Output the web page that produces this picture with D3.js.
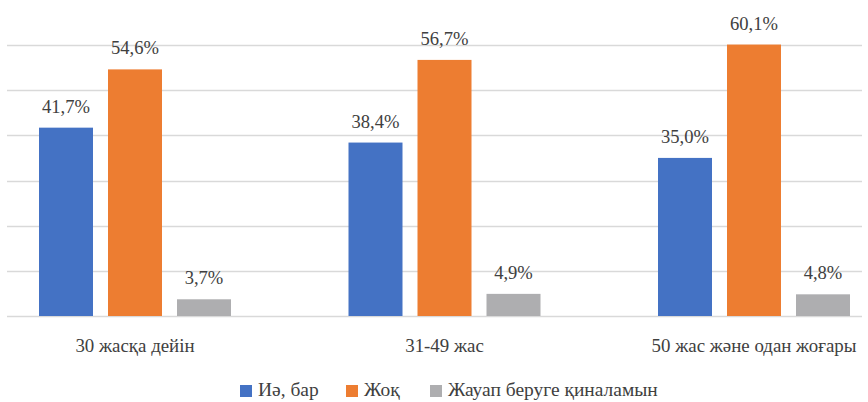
<!DOCTYPE html>
<html>
<head>
<meta charset="utf-8">
<script src="https://cdn.jsdelivr.net/npm/d3@7"></script>
</head>
<body style="margin:0">
<svg width="868" height="402"></svg>
<script>
var categories = ["30 жасқа дейін", "31-49 жас", "50 жас және одан жоғары"];
var series = ["Иә, бар", "Жоқ", "Жауап беруге қиналамын"];
var yesValues = [41.7, 38.4, 35.0];
var noValues = [54.6, 56.7, 60.1];
var unsureValues = [3.7, 4.9, 4.8];
var gridTicks = [0, 10, 20, 30, 40, 50, 60];

var colors = ["#4472C4", "#ED7D31", "#AEAEB0"];
var valuesBySeries = [yesValues, noValues, unsureValues];
var font = "Times New Roman, Liberation Serif, serif";

var svg = d3.select("svg"),
    width = +svg.attr("width"),
    height = +svg.attr("height");

var y = d3.scaleLinear().domain([0, 60]).range([316, 45]);

var x = d3.scalePoint()
    .domain(categories)
    .range([135, 754]);

var xInner = d3.scaleBand()
    .domain(series)
    .range([-96, 96])
    .paddingInner(0.2174);

// shrink/grow a text group so that one reference text gets the wanted width
function fitSize(sel, base, refIndex, wanted) {
  var w = sel.nodes()[refIndex].getComputedTextLength();
  var size = w > 0 ? base * wanted / w : base;
  sel.attr("font-size", size);
  return size;
}

// gridlines
svg.append("g")
    .selectAll("line")
    .data(gridTicks)
    .enter().append("line")
    .attr("x1", 7)
    .attr("x2", 862)
    .attr("y1", d => Math.round(y(d)) + 0.5)
    .attr("y2", d => Math.round(y(d)) + 0.5)
    .attr("stroke", "#D9D9D9")
    .attr("stroke-width", 1.3);

// bars
var rows = [];
categories.forEach(function(c, i) {
  series.forEach(function(s, j) {
    rows.push({cat: c, ser: s, val: valuesBySeries[j][i], color: colors[j]});
  });
});

svg.append("g")
    .selectAll("rect")
    .data(rows)
    .enter().append("rect")
    .attr("x", d => x(d.cat) + xInner(d.ser))
    .attr("width", xInner.bandwidth())
    .attr("y", d => y(d.val))
    .attr("height", d => y(0) - y(d.val))
    .attr("fill", d => d.color);

// value labels
var valueTexts = svg.append("g")
    .selectAll("text")
    .data(rows)
    .enter().append("text")
    .attr("x", d => x(d.cat) + xInner(d.ser) + xInner.bandwidth() / 2)
    .attr("y", d => y(d.val) - 15)
    .attr("text-anchor", "middle")
    .attr("font-family", font)
    .attr("font-size", 19)
    .attr("fill", "#404040")
    .text(d => d.val.toFixed(1).replace(".", ",") + "%");
fitSize(valueTexts, 19, 1, 48);

// category labels
var catTexts = svg.append("g")
    .selectAll("text")
    .data(categories)
    .enter().append("text")
    .attr("x", d => x(d))
    .attr("y", 352)
    .attr("text-anchor", "middle")
    .attr("font-family", font)
    .attr("font-size", 20)
    .attr("fill", "#404040")
    .text(d => d);
fitSize(catTexts, 20, 2, 205);

// legend
var legendX = [240, 346, 430];
var legend = svg.append("g")
    .selectAll("g")
    .data(series)
    .enter().append("g")
    .attr("transform", (d, i) => "translate(" + legendX[i] + ",0)");

legend.append("rect")
    .attr("y", 385)
    .attr("width", 12)
    .attr("height", 12)
    .attr("fill", (d, i) => colors[i]);

var legendTexts = legend.append("text")
    .attr("x", 18)
    .attr("y", 396)
    .attr("font-family", font)
    .attr("font-size", 20)
    .attr("fill", "#404040")
    .text(d => d);
fitSize(legendTexts, 20, 2, 210);
</script>
</body>
</html>
